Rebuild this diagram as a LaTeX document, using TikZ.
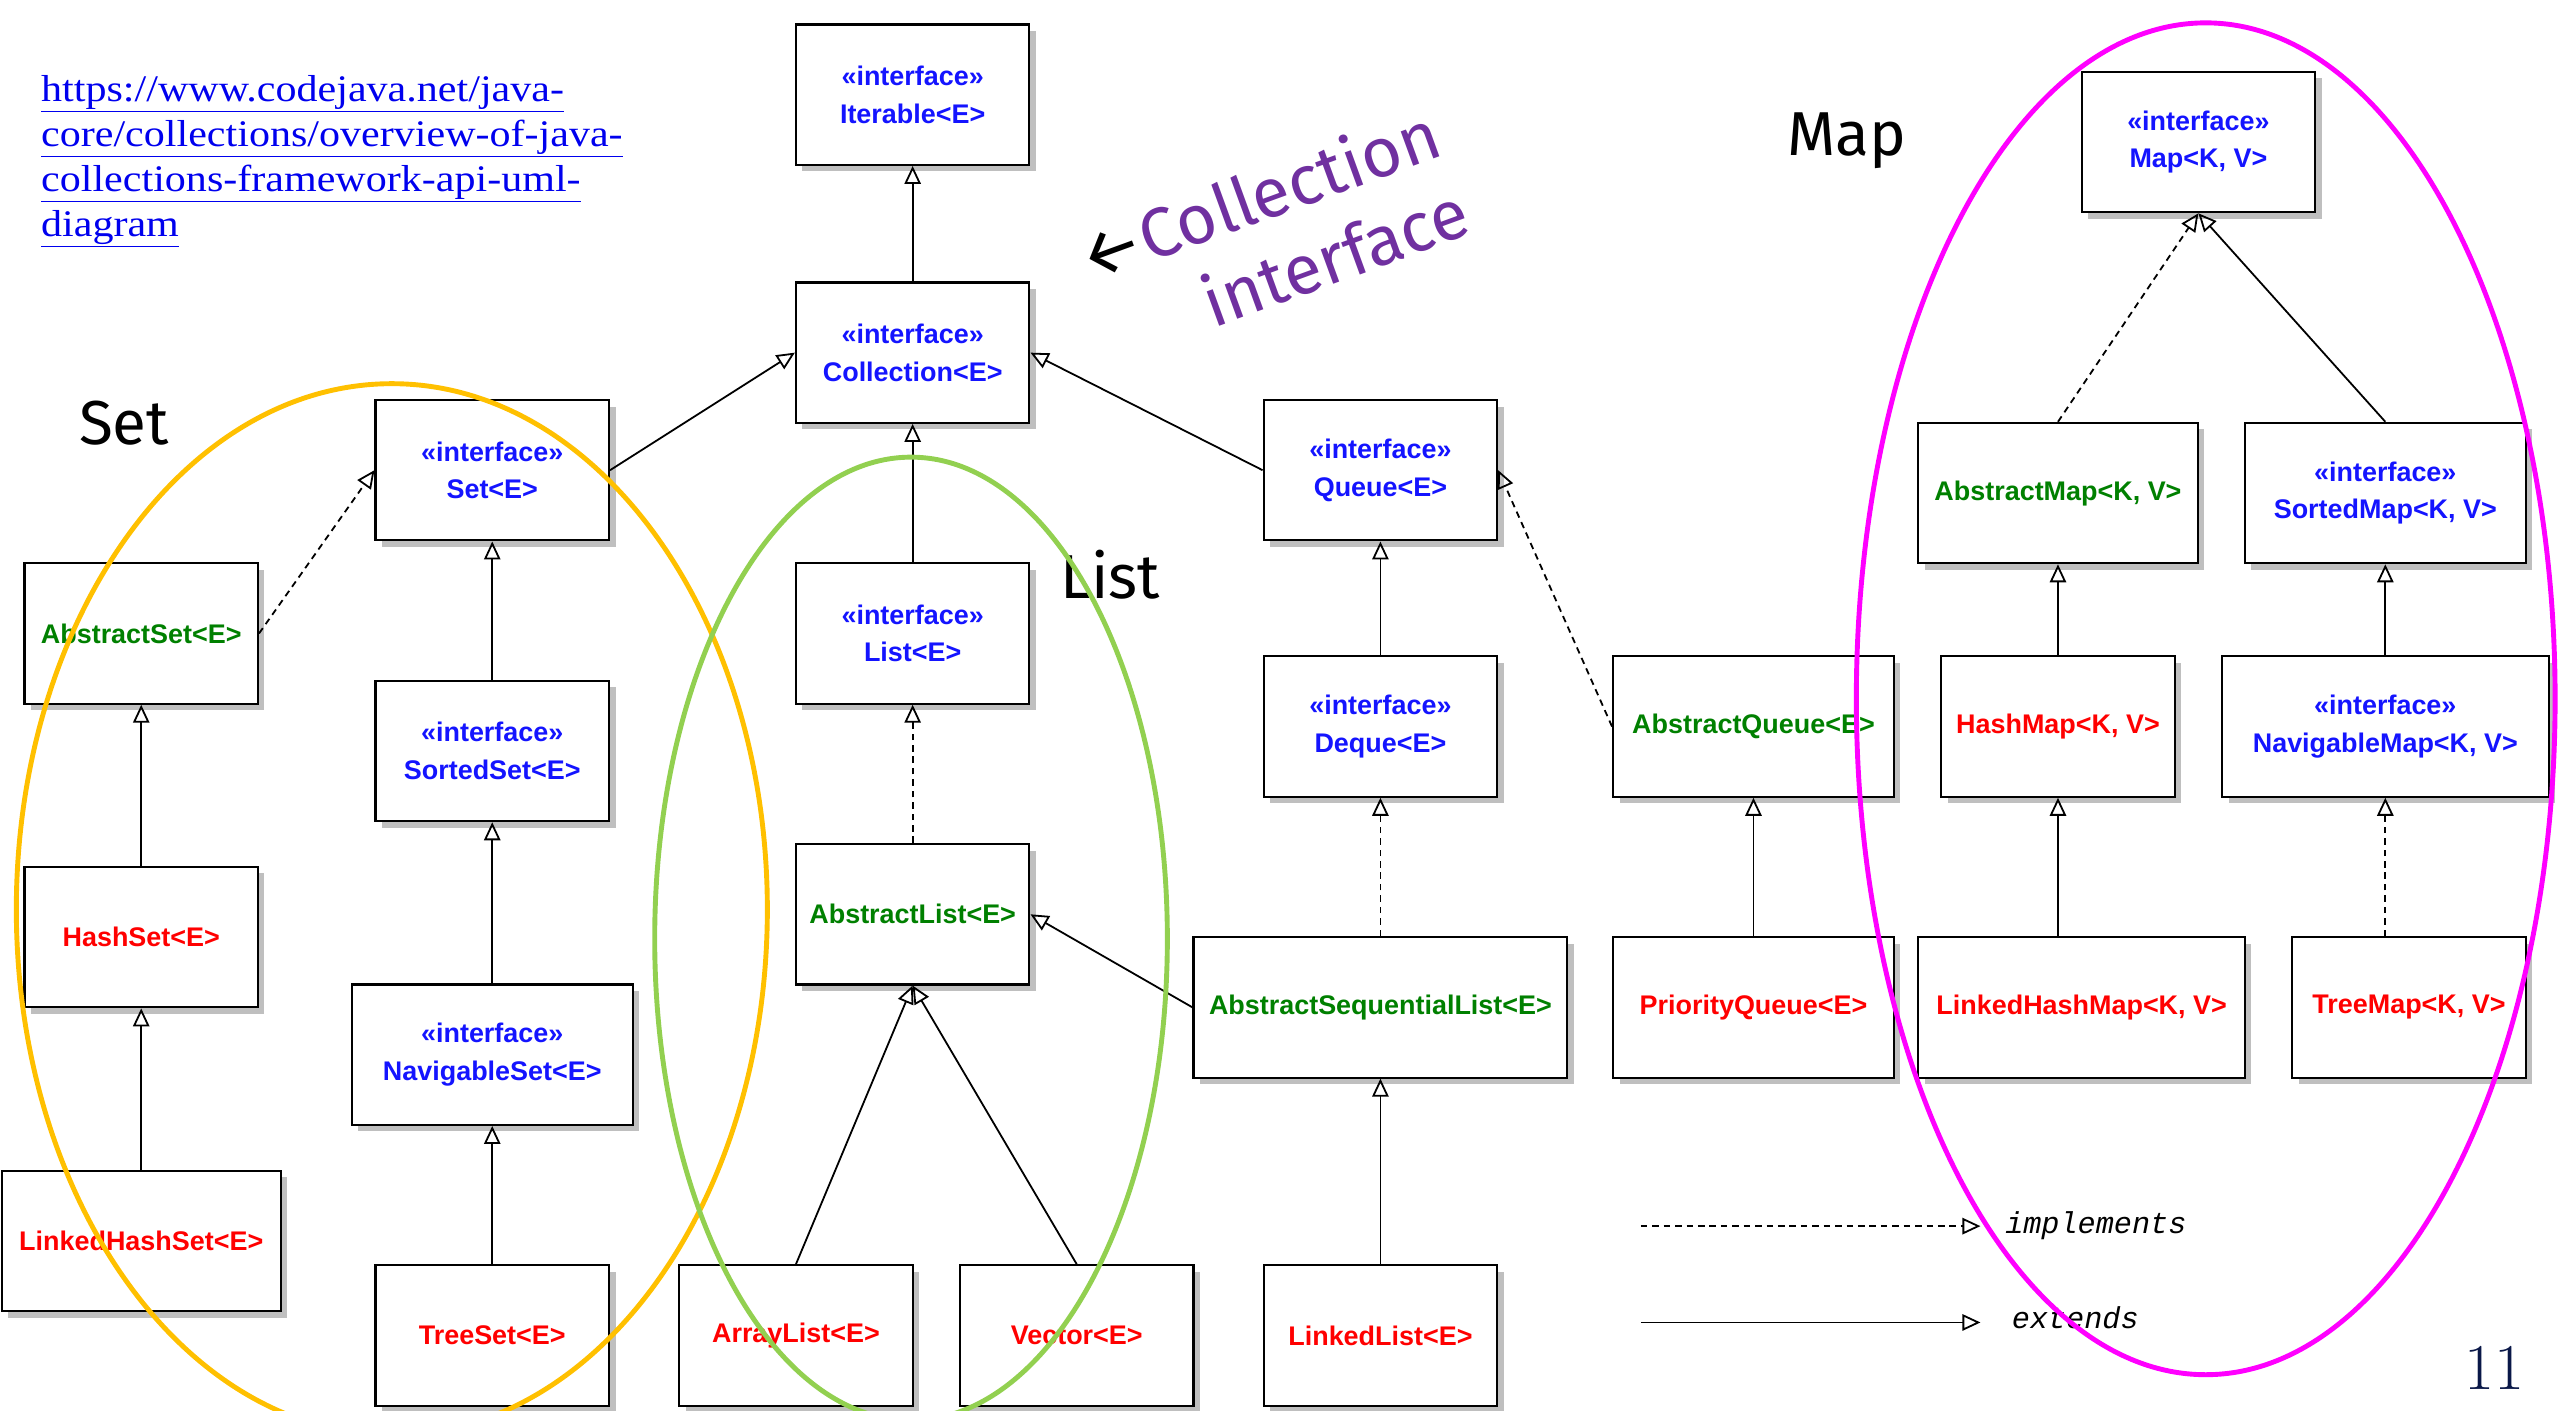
\documentclass[tikz,border=0pt]{standalone}
\usepackage{fontspec}
\usepackage{color}
\usetikzlibrary{arrows.meta,shadows}
\newfontfamily\umlfont{Liberation Sans}
\newfontfamily\slidefont{Fira Sans}
\newfontfamily\legendfont{Liberation Mono}
\newfontfamily\linkfont{Liberation Serif}
\definecolor{ifaceblue}{RGB}{20,20,255}
\definecolor{absgreen}{RGB}{0,128,0}
\definecolor{classred}{RGB}{255,0,0}
\definecolor{linkblue}{RGB}{0,0,238}
\definecolor{collpurple}{RGB}{112,48,160}
\definecolor{setorange}{RGB}{255,192,0}
\definecolor{listgreen}{RGB}{146,208,80}
\definecolor{mapmagenta}{RGB}{255,0,255}
\definecolor{pagenavy}{RGB}{10,24,72}
\newcommand{\urlline}[1]{\scalebox{1.12}[1]{\underline{#1}}}

\begin{document}
\begin{tikzpicture}[x=1pt,y=-1pt,
    uml node/.style={rectangle,draw,line width=1.3pt,fill=white,minimum width=143pt,minimum height=86pt,inner sep=2pt,align=center,font=\umlfont\bfseries\fontsize{16.5}{23}\selectfont,drop shadow={shadow xshift=4pt,shadow yshift=-4pt,fill=black!25,opacity=1}},
    iface node/.style={uml node,text=ifaceblue},
    abstract node/.style={uml node,text=absgreen},
    class node/.style={uml node,text=classred},
    extends/.style={line width=1.1pt,-{Triangle[open,length=11pt,width=10pt]}},
    implements/.style={extends,dash pattern=on 4pt off 3pt},
    group/.style={line width=3pt},
    big label/.style={font=\slidefont\fontsize{38}{44}\selectfont},
    legend text/.style={anchor=west,inner xsep=15pt,font=\legendfont\itshape\fontsize{18.5}{22}\selectfont}]
    \useasboundingbox (0,0) rectangle (1568,864);

    \node[anchor=north west,inner sep=0pt,align=left,text=linkblue,font=\linkfont\fontsize{23}{27.5}\selectfont] (url) at (25,46)
        {\urlline{https://www.codejava.net/java-}\\\urlline{core/collections/overview-of-java-}\\\urlline{collections-framework-api-uml-}\\\urlline{diagram}};
    \node[rotate=20,align=right,text=collpurple,font=\slidefont\fontsize{42.5}{51}\selectfont] (colltag) at (780,143)
        {{\color{black}←}Collection\\interface};
    \node[big label] (setlabel) at (76,259) {Set};
    \node[big label] (listlabel) at (680,352) {List};
    \node[big label] (maplabel) at (1131,86) {Map};
    \node[text=pagenavy,font=\fontsize{40}{44}\selectfont] (page) at (1528,838) {11};

    \node[iface node] (iter) at (559,58) {«interface»\\Iterable<E>};
    \node[iface node] (coll) at (559,216) {«interface»\\Collection<E>};
    \node[iface node] (set) at (301.5,288) {«interface»\\Set<E>};
    \node[iface node] (queue) at (845.5,288) {«interface»\\Queue<E>};
    \node[iface node] (list) at (559,388) {«interface»\\List<E>};
    \node[abstract node] (aset) at (86.5,388) {AbstractSet<E>};
    \node[iface node] (sset) at (301.5,460) {«interface»\\SortedSet<E>};
    \node[iface node] (deque) at (845.5,445) {«interface»\\Deque<E>};
    \node[abstract node,minimum width=172pt] (aqueue) at (1074,445) {AbstractQueue<E>};
    \node[abstract node] (alist) at (559,560) {AbstractList<E>};
    \node[class node] (hset) at (86.5,574) {HashSet<E>};
    \node[iface node,minimum width=172pt] (nset) at (301.5,646) {«interface»\\NavigableSet<E>};
    \node[abstract node,minimum width=229pt] (aseq) at (845.5,617) {AbstractSequentialList<E>};
    \node[class node,minimum width=172pt] (pqueue) at (1074,617) {PriorityQueue<E>};
    \node[class node,minimum width=171pt] (lhset) at (86.5,760) {LinkedHashSet<E>};
    \node[class node] (tset) at (301.5,818) {TreeSet<E>};
    \node[class node] (arrlist) at (487.5,818) {ArrayList<E>};
    \node[class node] (vector) at (659.5,818) {Vector<E>};
    \node[class node] (llist) at (845.5,818) {LinkedList<E>};
    \node[iface node] (map) at (1346.5,87) {«interface»\\Map<K, V>};
    \node[abstract node,minimum width=171pt] (amap) at (1260.5,302) {AbstractMap<K, V>};
    \node[iface node,minimum width=172pt] (smap) at (1461,302) {«interface»\\SortedMap<K, V>};
    \node[class node] (hmap) at (1260.5,445) {HashMap<K, V>};
    \node[iface node,minimum width=200pt] (nmap) at (1461,445) {«interface»\\NavigableMap<K, V>};
    \node[class node,minimum width=200pt] (lhmap) at (1275,617) {LinkedHashMap<K, V>};
    \node[class node] (tmap) at (1475.5,617) {TreeMap<K, V>};

    \path [extends] (coll) edge (iter);
    \path [extends] (set.east) edge (coll.west);
    \path [extends] (queue.west) edge (coll.east);
    \path [extends] (list) edge (coll);
    \path [implements] (aset.east) edge (set.west);
    \path [extends] (sset) edge (set);
    \path [extends] (nset) edge (sset);
    \path [extends] (tset) edge (nset);
    \path [extends] (hset) edge (aset);
    \path [extends] (lhset) edge (hset);
    \path [implements] (alist) edge (list);
    \path [extends] (arrlist.north) edge (alist.south);
    \path [extends] (vector.north) edge (alist.south);
    \path [extends] (aseq.west) edge (alist.east);
    \path [extends] (llist) edge (aseq);
    \path [extends] (deque) edge (queue);
    \path [implements] (aseq) edge (deque);
    \path [implements] (aqueue.west) edge (queue.east);
    \path [extends] (pqueue) edge (aqueue);
    \path [implements] (amap.north) edge (map.south);
    \path [extends] (smap.north) edge (map.south);
    \path [extends] (hmap) edge (amap);
    \path [extends] (nmap) edge (smap);
    \path [extends] (lhmap.north -| hmap) edge (hmap);
    \path [implements] (tmap.north -| nmap) edge (nmap);

    \coordinate (impl start) at (1005,751);
    \coordinate (ext start) at (1005,810);
    \node[legend text] (impl) at (1213,751) {implements};
    \node[legend text,inner xsep=19pt] (ext) at (1213,807) {extends};
    \draw [implements] (impl start) -- (impl.west);
    \draw [extends] (ext start) -- (ext.west |- ext start);

    \draw [group,setorange] (240,557) ellipse [x radius=230pt,y radius=322pt];
    \draw [group,listgreen] (558,575) ellipse [x radius=157pt,y radius=295pt];
    \draw [group,mapmagenta] (1351,428) ellipse [x radius=214pt,y radius=414pt];
\end{tikzpicture}
\end{document}
